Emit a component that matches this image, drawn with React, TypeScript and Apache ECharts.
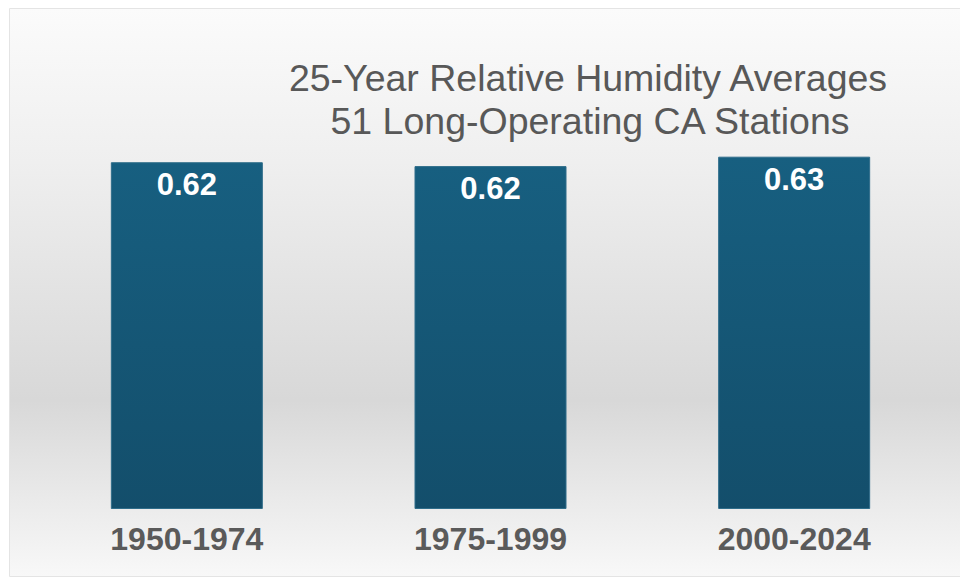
import React, { useEffect, useRef } from "react";
import * as echarts from "echarts";

const categories = ["1950-1974", "1975-1999", "2000-2024"];
const humidityAverages = [0.624, 0.617, 0.634];
const titleLines = ["25-Year Relative Humidity Averages", "51 Long-Operating CA Stations"];

export default function App() {
  const ref = useRef<HTMLDivElement>(null);

  useEffect(() => {
    if (!ref.current) return;
    const chart = echarts.init(ref.current, undefined, { renderer: "svg" });
    const font = "'Liberation Sans', Arial, sans-serif";
    chart.setOption({
      animation: false,
      backgroundColor: "#ffffff",
      graphic: [
        {
          type: "rect",
          z: -10,
          silent: true,
          shape: { x: 9.5, y: 8.5, width: 952, height: 568 },
          style: {
            fill: new echarts.graphic.LinearGradient(0, 0, 0, 1, [
              { offset: 0, color: "#fbfbfb" },
              { offset: 0.27, color: "#efefef" },
              { offset: 0.69, color: "#d8d8d8" },
              { offset: 1, color: "#f8f8f8" },
            ]),
            stroke: "#e4e4e4",
            lineWidth: 1,
          },
        },
        {
          type: "text",
          x: 588,
          y: 78,
          silent: true,
          style: {
            text: titleLines[0],
            fill: "#585858",
            font: `37.5px ${font}`,
            textAlign: "center",
            textVerticalAlign: "middle",
          },
        },
        {
          type: "text",
          x: 590,
          y: 121,
          silent: true,
          style: {
            text: titleLines[1],
            fill: "#585858",
            font: `37.5px ${font}`,
            textAlign: "center",
            textVerticalAlign: "middle",
          },
        },
      ],
      grid: { left: 35, right: 14, top: 120, bottom: 69, containLabel: false },
      xAxis: {
        type: "category",
        data: categories,
        axisLine: { show: false },
        axisTick: { show: false },
        splitLine: { show: false },
        axisLabel: {
          margin: 14,
          color: "#5a5a5a",
          fontFamily: font,
          fontWeight: "bold",
          fontSize: 32,
        },
      },
      yAxis: {
        type: "value",
        min: 0,
        max: 0.7,
        show: false,
        splitLine: { show: false },
      },
      series: [
        {
          type: "bar",
          data: humidityAverages,
          barWidth: 152,
          itemStyle: {
            color: new echarts.graphic.LinearGradient(0, 0, 0, 1, [
              { offset: 0, color: "#175f80" },
              { offset: 1, color: "#134e6b" },
            ]),
            borderColor: "#2f6d8a",
            borderWidth: 1,
          },
          label: {
            show: true,
            position: "insideTop",
            distance: 7,
            color: "#ffffff",
            fontFamily: font,
            fontWeight: "bold",
            fontSize: 31,
            formatter: (p: any) => Number(p.value).toFixed(2),
          },
        },
      ],
    });
    return () => chart.dispose();
  }, []);

  return (
    <div
      ref={ref}
      style={{ position: "fixed", left: 0, top: 0, width: 960, height: 578 }}
    />
  );
}
